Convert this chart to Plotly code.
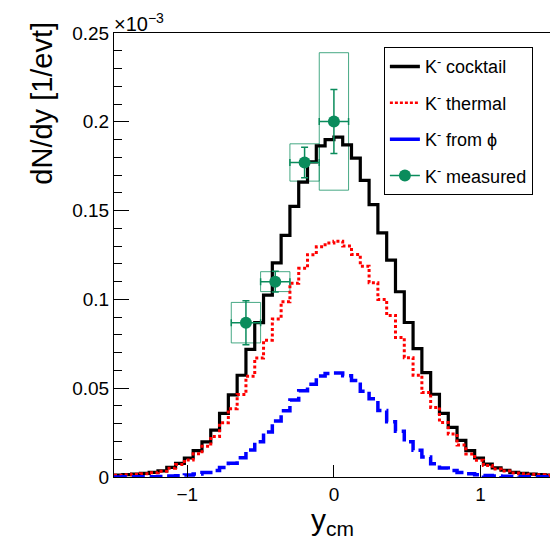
import plotly.graph_objects as go

# ---- data (values in units of 1e-3 / evt) ----
bin_edges_start = -1.5
bin_width = 0.06
cocktail = [0.0010, 0.0013, 0.0017, 0.0020, 0.0026, 0.0035, 0.0054, 0.0077, 0.0107, 0.0148,
            0.0198, 0.0264, 0.0358, 0.0462, 0.0573, 0.0719, 0.0869, 0.1024, 0.1206, 0.1360,
            0.1524, 0.1660, 0.1774, 0.1865, 0.1900, 0.1914, 0.1870, 0.1796, 0.1670, 0.1534,
            0.1375, 0.1221, 0.1043, 0.0870, 0.0723, 0.0588, 0.0466, 0.0358, 0.0279, 0.0206,
            0.0148, 0.0107, 0.0073, 0.0051, 0.0038, 0.0026, 0.0021, 0.0016, 0.0013, 0.0010]
thermal = [0.0010, 0.0012, 0.0016, 0.0019, 0.0024, 0.0032, 0.0049, 0.0070, 0.0096, 0.0131,
           0.0173, 0.0228, 0.0305, 0.0384, 0.0464, 0.0567, 0.0670, 0.0770, 0.0890, 0.0987,
           0.1091, 0.1175, 0.1252, 0.1296, 0.1317, 0.1328, 0.1300, 0.1253, 0.1187, 0.1094,
           0.1000, 0.0910, 0.0785, 0.0672, 0.0573, 0.0476, 0.0392, 0.0307, 0.0242, 0.0180,
           0.0130, 0.0095, 0.0065, 0.0045, 0.0034, 0.0023, 0.0019, 0.0015, 0.0012, 0.0010]
from_phi = [0.0000, 0.0001, 0.0001, 0.0001, 0.0002, 0.0003, 0.0005, 0.0007, 0.0011, 0.0017,
            0.0025, 0.0036, 0.0053, 0.0078, 0.0109, 0.0152, 0.0199, 0.0254, 0.0316, 0.0373,
            0.0433, 0.0485, 0.0522, 0.0569, 0.0583, 0.0586, 0.0570, 0.0543, 0.0483, 0.0440,
            0.0375, 0.0311, 0.0258, 0.0198, 0.0150, 0.0112, 0.0074, 0.0051, 0.0037, 0.0026,
            0.0018, 0.0012, 0.0008, 0.0006, 0.0004, 0.0003, 0.0002, 0.0001, 0.0001, 0.0000]

meas_x = [-0.6, -0.4, -0.2, 0.0]
meas_y = [0.0869, 0.1100, 0.1771, 0.2002]
meas_xerr = [0.1, 0.1, 0.1, 0.1]
meas_stat = [0.0124, 0.0058, 0.0086, 0.0180]
meas_sys = [0.0114, 0.0056, 0.0105, 0.0387]

y_ticks = [0, 0.05, 0.1, 0.15, 0.2, 0.25]
x_ticks = [-1, 0, 1]

GREEN = "#0a8c5c"
BOXGREEN = "rgba(10,140,92,0.75)"


def step_xy(vals):
    xs = [bin_edges_start + i * bin_width for i in range(len(vals) + 1)]
    ys = list(vals) + [vals[-1]]
    return xs, ys


fig = go.Figure()

# systematic boxes
bx, by = [], []
for x, y, dx, s in zip(meas_x, meas_y, meas_xerr, meas_sys):
    bx += [x - dx, x + dx, x + dx, x - dx, x - dx, None]
    by += [y - s, y - s, y + s, y + s, y - s, None]
fig.add_trace(go.Scatter(x=bx, y=by, mode="lines", line=dict(color=BOXGREEN, width=1),
                         showlegend=False, hoverinfo="skip"))

xs, ys = step_xy(cocktail)
fig.add_trace(go.Scatter(x=xs, y=ys, mode="lines", line=dict(color="black", width=3.2, shape="hv"),
                         showlegend=False))
xs, ys = step_xy(thermal)
fig.add_trace(go.Scatter(x=xs, y=ys, mode="lines",
                         line=dict(color="#ff0000", width=3, shape="hv", dash="3px,2.5px"),
                         showlegend=False))
xs, ys = step_xy(from_phi)
fig.add_trace(go.Scatter(x=xs, y=ys, mode="lines",
                         line=dict(color="#0000ff", width=3.5, shape="hv", dash="13px,5px"),
                         showlegend=False))

fig.add_trace(go.Scatter(
    x=meas_x, y=meas_y, mode="markers",
    marker=dict(color=GREEN, size=12),
    error_y=dict(type="data", array=meas_stat, color=GREEN, thickness=1.5, width=3.5),
    error_x=dict(type="data", array=meas_xerr, color=GREEN, thickness=1.5, width=3.5),
    showlegend=False))

# legend entries
fig.add_trace(go.Scatter(x=[None], y=[None], mode="lines", name="K<sup>-</sup> cocktail",
                         line=dict(color="black", width=3.5), legendgroup="a"))
fig.add_trace(go.Scatter(x=[None], y=[None], mode="lines", name="K<sup>-</sup> thermal",
                         line=dict(color="#ff0000", width=2.5, dash="3px,2px"), legendgroup="b"))
fig.add_trace(go.Scatter(x=[None], y=[None], mode="lines", name="K<sup>-</sup> from \u03d5",
                         line=dict(color="#0000ff", width=3.5), legendgroup="c"))
fig.add_trace(go.Scatter(x=[None], y=[None], mode="lines+markers", name="K<sup>-</sup> measured",
                         line=dict(color=GREEN, width=1.5), marker=dict(color=GREEN, size=12),
                         legendgroup="d"))

FONT = "Liberation Sans, Arial, Helvetica, sans-serif"

fig.update_layout(
    width=550, height=539,
    margin=dict(l=114, r=0, t=33, b=61.5),
    paper_bgcolor="white", plot_bgcolor="white",
    font=dict(family=FONT, color="black", size=18),
    showlegend=True,
    legend=dict(x=0.619, y=0.968, xanchor="left", yanchor="top",
                bgcolor="white", bordercolor="black", borderwidth=1,
                font=dict(size=18), tracegroupgap=10, itemwidth=30),
    xaxis=dict(range=[-1.5, 1.474], tickvals=x_ticks, ticks="inside", ticklen=12,
               tickcolor="black", showline=True, linecolor="black", mirror=True,
               showgrid=False, zeroline=False, tickfont=dict(size=19)),
    yaxis=dict(range=[0, 0.25], tickvals=y_ticks, ticks="inside", ticklen=15,
               tickcolor="black", showline=True, linecolor="black", mirror=True,
               showgrid=False, zeroline=False, tickfont=dict(size=19),
               minor=dict(dtick=0.01, ticks="inside", ticklen=8, tickcolor="black")),
    annotations=[
        dict(text="dN/dy [1/evt]", textangle=-90, xref="paper", yref="paper",
             x=-0.165, y=1.029, xanchor="center", yanchor="top", showarrow=False,
             font=dict(size=29)),
        dict(text="y<sub>cm</sub>", xref="paper", yref="paper", x=0.5, y=-0.055,
             xanchor="center", yanchor="top", showarrow=False, font=dict(size=30)),
        dict(text="\u00d710<sup>\u22123</sup>", xref="paper", yref="paper", x=-0.005, y=1,
             xanchor="left", yanchor="bottom", yshift=-4, showarrow=False, font=dict(size=20)),
    ],
)

fig.write_html("out.html")
